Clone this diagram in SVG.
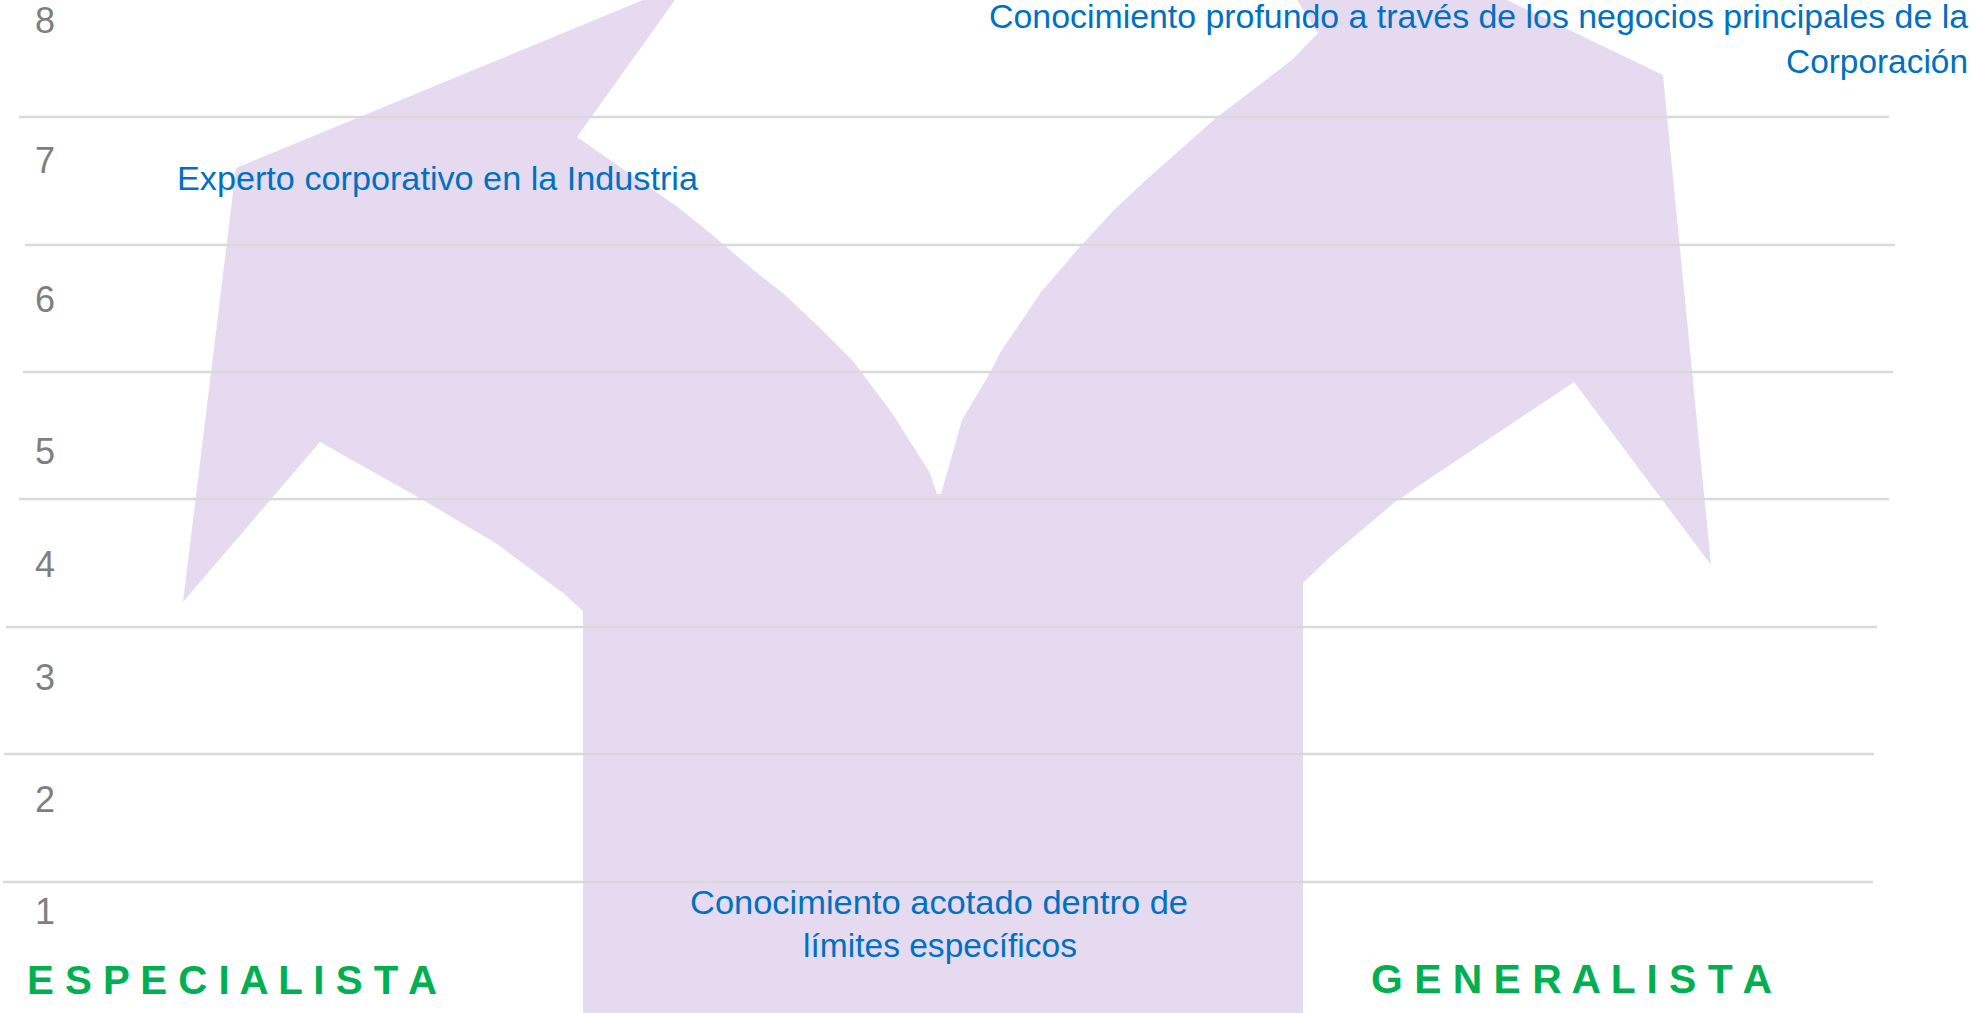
<svg xmlns="http://www.w3.org/2000/svg" width="1972" height="1013" viewBox="0 0 1972 1013">
<style>
.grid{stroke:#d9d9d9;stroke-width:2.6;fill:none}
.ax{font-family:"Liberation Sans",Arial,sans-serif;font-size:36px;fill:#7f7f7f;text-anchor:middle}
.lbl{font-family:"Liberation Sans",Arial,sans-serif;font-size:34px;fill:#0070c0}
.cat{font-family:"Liberation Sans",Arial,sans-serif;font-size:40px;font-weight:bold;fill:#00b050}
</style>
<rect width="1972" height="1013" fill="#ffffff"/>
<g id="shape">
<polygon fill="#e6daf0" points="583,1013 583,611 563,593 497,544 423,500 320,442 183,602 236,168 643,0 675,0 577,137 679,208 710,233 751,268 784,294 819,327 853,361 892,413 930,473 937,494 941,494 962,420 990,373 1000,353 1041,292 1078,249 1114,210 1146,180 1182,148 1216,118 1258,86 1293,59 1318,33 1297,0 1507,0 1663,75 1711,565 1574,382 1420,485 1395,502 1330,557 1303,583 1303,1013"/>
</g>
<g id="gridlines">
<line class="grid" x1="19" y1="117" x2="1889" y2="117"/>
<line class="grid" x1="25" y1="245" x2="1895" y2="245"/>
<line class="grid" x1="23" y1="372" x2="1893" y2="372"/>
<line class="grid" x1="19" y1="499" x2="1889" y2="499"/>
<line class="grid" x1="6" y1="627" x2="1877" y2="627"/>
<line class="grid" x1="4" y1="754" x2="1874" y2="754"/>
<line class="grid" x1="3" y1="882" x2="1873" y2="882"/>
</g>
<g id="axis">
<text class="ax" x="45" y="33">8</text>
<text class="ax" x="45" y="173">7</text>
<text class="ax" x="45" y="312">6</text>
<text class="ax" x="45" y="464">5</text>
<text class="ax" x="45" y="577">4</text>
<text class="ax" x="45" y="690">3</text>
<text class="ax" x="45" y="812">2</text>
<text class="ax" x="45" y="924">1</text>
</g>
<g id="label-experto">
<text class="lbl" x="177" y="190" textLength="521" lengthAdjust="spacingAndGlyphs">Experto corporativo en la Industria</text>
</g>
<g id="label-profundo">
<text class="lbl" x="989" y="28" textLength="979" lengthAdjust="spacingAndGlyphs">Conocimiento profundo a través de los negocios principales de la</text>
<text class="lbl" x="1786" y="73" textLength="182" lengthAdjust="spacingAndGlyphs">Corporación</text>
</g>
<g id="label-acotado">
<text class="lbl" x="690" y="914" textLength="498" lengthAdjust="spacingAndGlyphs">Conocimiento acotado dentro de</text>
<text class="lbl" x="803" y="957" textLength="274" lengthAdjust="spacingAndGlyphs">límites específicos</text>
</g>
<g id="especialista">
<text class="cat" x="27" y="994" textLength="410" lengthAdjust="spacingAndGlyphs">E S P E C I A L I S T A</text>
</g>
<g id="generalista">
<text class="cat" x="1371" y="993" textLength="401" lengthAdjust="spacingAndGlyphs">G E N E R A L I S T A</text>
</g>
</svg>
